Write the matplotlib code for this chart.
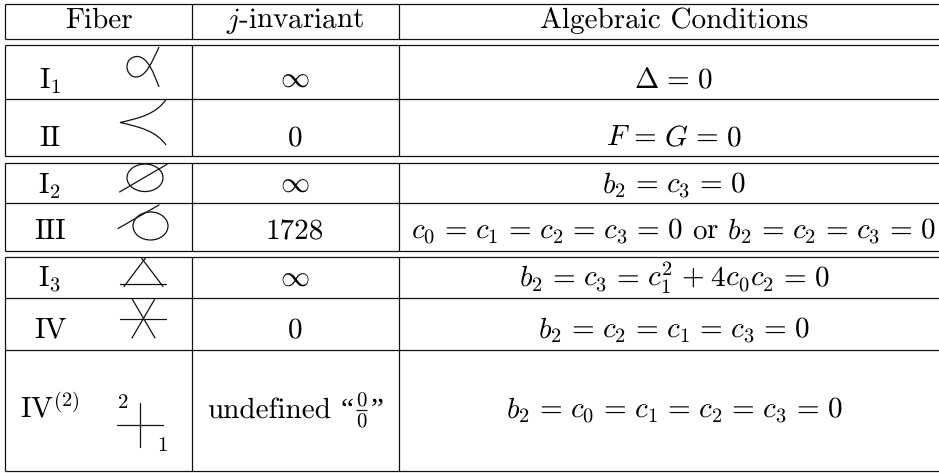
import matplotlib
matplotlib.use("Agg")
import matplotlib.pyplot as plt
from matplotlib.path import Path
from matplotlib.patches import PathPatch, Ellipse

plt.rcParams['font.family'] = ['cmr10', 'DejaVu Sans']
plt.rcParams['mathtext.fontset'] = 'cm'
plt.rcParams['axes.formatter.use_mathtext'] = True
plt.rcParams['text.hinting'] = 'no_hinting'
plt.rcParams['text.hinting_factor'] = 1

EQ = r"\hspace{0.13}=\hspace{0.13}"
headers = ["Fiber", "$j$-invariant", "Algebraic Conditions"]
fibers = [r"$\mathrm{I}_1$", "II", r"$\mathrm{I}_2$", "III", r"$\mathrm{I}_3$", "IV", r"$\mathrm{IV}^{(2)}$"]
j_values = [r"$\infty$", "0", r"$\infty$", "1728", r"$\infty$", "0", "undefined"]
conditions = [
    r"$\Delta = 0$",
    r"$F = G = 0$",
    r"$b_2 = c_3 = 0$",
    r"$c_0 = c_1 = c_2 = c_3 = 0$ or $b_2 = c_2 = c_3 = 0$",
    r"$b_2 = c_3 = c_1^2 + 4c_0c_2 = 0$",
    r"$b_2 = c_2 = c_1 = c_3 = 0$",
    r"$b_2 = c_0 = c_1 = c_2 = c_3 = 0$",
]
baselines = [88, 146, 193, 239, 287, 338, 418]
h_rules = [3.7, 38.7, 45.3, 98.7, 156.2, 163.3, 203.3, 250.7, 257.3, 298, 350, 471]
v_rules = [5, 192.3, 398.7]
col_centers = [99, 295, 674]

fig = plt.figure(figsize=(9.39, 4.73), dpi=100)
ax = fig.add_axes([0, 0, 1, 1])
ax.set_xlim(0, 939)
ax.set_ylim(473, 0)
ax.axis('off')

LW = 0.9
FS = 21
for y in h_rules:
    ax.plot([5, 939], [y, y], color='#111111', lw=LW, solid_capstyle='butt')
spans = [(3.7, 38.7), (45.3, 156.2), (163.3, 250.7), (257.3, 471)]
for x in v_rules:
    for a, b in spans:
        ax.plot([x, x], [a, b], color='#111111', lw=LW, solid_capstyle='butt')

for c, t in zip(col_centers, headers):
    ax.text(c, 28, t, ha='center', va='baseline', fontsize=FS, color='black')

for y, t in zip(baselines, fibers):
    ax.text(50, y, t, ha='center', va='baseline', fontsize=FS, color='black')
for y, t in zip(baselines[:-1], j_values[:-1]):
    ax.text(295, y, t, ha='center', va='baseline', fontsize=FS, color='black')
ax.text(207, 418, j_values[-1], ha='left', va='baseline', fontsize=FS, color='black')
ax.text(347, 418, "“", ha='center', va='baseline', fontsize=FS, color='black', family='Liberation Serif')
ax.text(377, 418, "”", ha='center', va='baseline', fontsize=FS, color='black', family='Liberation Serif')
ax.text(361, 407, "0", ha='center', va='baseline', fontsize=15, color='black')
ax.text(361, 428, "0", ha='center', va='baseline', fontsize=15, color='black')
ax.plot([355.5, 366.5], [410, 410], color='#111111', lw=LW, solid_capstyle='butt')
for y, t in zip(baselines, conditions):
    ax.text(col_centers[2], y, t.replace(" = ", EQ).replace(" + ", r"\hspace{0.08}+\hspace{0.08}"),
            ha='center', va='baseline', fontsize=FS, color='black')

# fiber sketches
SK = dict(color='#111111', lw=0.9, solid_capstyle='round')
def curve(verts, codes):
    ax.add_patch(PathPatch(Path(verts, codes), fill=False, ec='#111111', lw=0.9))

C4, M = Path.CURVE4, Path.MOVETO
curve([(159, 47), (152, 62), (146, 77), (136, 77), (130, 77), (127, 71), (127, 67),
       (127, 60), (132, 56.5), (137, 56.5), (148, 56.5), (154, 74), (159, 87)],
      [M, C4, C4, C4, C4, C4, C4, C4, C4, C4, C4, C4, C4])
curve([(166, 99.5), (156, 114), (140, 118), (120, 122.5), (140, 127), (156, 131), (166, 145)],
      [M, C4, C4, C4, C4, C4, C4])
ax.add_patch(Ellipse((145, 177.8), 36, 27.5, fill=False, ec='#111111', lw=0.9))
ax.plot([119.5, 167], [192, 164.3], **SK)
ax.add_patch(Ellipse((150.5, 226), 35, 28, fill=False, ec='#111111', lw=0.9))
ax.plot([118, 159], [228.5, 205], **SK)
ax.plot([120, 166], [283.5, 283.5], **SK)
ax.plot([124, 145.5], [286.5, 258], **SK)
ax.plot([163, 141.5], [286.5, 258], **SK)
ax.plot([120, 166], [319, 319], **SK)
ax.plot([132, 155], [298.7, 338], **SK)
ax.plot([155, 132], [298.7, 338], **SK)
ax.plot([117, 163], [425, 425], **SK)
ax.plot([140, 140], [402.7, 447], **SK)
ax.text(123, 407.7, "2", ha='center', va='baseline', fontsize=15, color='black')
ax.text(162.5, 451, "1", ha='center', va='baseline', fontsize=15, color='black')

fig.savefig("out.png", dpi=100)
